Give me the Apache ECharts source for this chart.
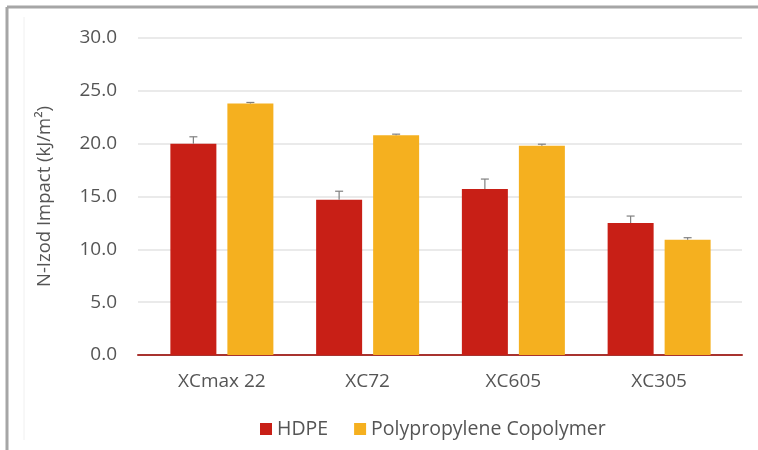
<!DOCTYPE html>
<html><head><meta charset="utf-8">
<script src="https://cdn.jsdelivr.net/npm/echarts@6/dist/echarts.min.js"></script>
<style>html,body{margin:0;padding:0;background:#fff}#c{width:758px;height:450px}</style>
</head><body><div id="c"></div>
<script>
var categories = ['XCmax 22', 'XC72', 'XC605', 'XC305'];
var hdpe = [20.0, 14.7, 15.7, 12.5];
var hdpeErr = [0.65, 0.8, 0.95, 0.65];
var pp = [23.8, 20.8, 19.8, 10.9];
var ppErr = [0.1, 0.1, 0.15, 0.2];
var yTicks = [0, 5, 10, 15, 20, 25, 30];

var BAR_W = 46, GAP = 11;
function errSeries(vals, errs, sign) {
  return {
    type: 'custom',
    xAxisIndex: 1, yAxisIndex: 1,
    data: vals.map(function (v, i) { return [i, v, v + errs[i]]; }),
    z: 5,
    silent: true,
    renderItem: function (params, api) {
      var off = sign * (BAR_W + GAP) / 2;
      var p0 = api.coord([api.value(0), api.value(1)]);
      var p1 = api.coord([api.value(0), api.value(2)]);
      var x = p0[0] + off;
      var style = {stroke: '#808080', lineWidth: 1.2};
      return {type: 'group', children: [
        {type: 'line', shape: {x1: x, y1: p0[1], x2: x, y2: p1[1]}, style: style},
        {type: 'line', shape: {x1: x - 4, y1: p1[1], x2: x + 4, y2: p1[1]}, style: style}
      ]};
    }
  };
}

var chart = echarts.init(document.getElementById('c'));
chart.setOption({
  animation: false,
  textStyle: {fontFamily: 'Open Sans'},
  graphic: [
    {type: 'line', shape: {x1: 7, y1: 7, x2: 758, y2: 7}, style: {stroke: '#a6a6a6', lineWidth: 3}},
    {type: 'line', shape: {x1: 7, y1: 7, x2: 7, y2: 450}, style: {stroke: '#a6a6a6', lineWidth: 3}},
    {type: 'line', shape: {x1: 24, y1: 17, x2: 24, y2: 440}, style: {stroke: '#f0f0f0', lineWidth: 1}}
  ],
  grid: [
    {left: 138, right: 16, top: 38, bottom: 95},
    {left: 149, right: 26, top: 38, bottom: 95}
  ],
  legend: {
    left: 255, top: 414, itemWidth: 12, itemHeight: 12, itemGap: 26,
    icon: 'rect',
    textStyle: {fontSize: 19.5, color: '#555', fontFamily: 'Open Sans'},
    data: ['HDPE', 'Polypropylene Copolymer']
  },
  xAxis: [
    {type: 'category', gridIndex: 0, data: categories,
     axisLine: {lineStyle: {color: '#a8332f', width: 2}},
     axisTick: {show: false}, axisLabel: {show: false}},
    {type: 'category', gridIndex: 1, data: categories,
     axisLine: {show: false}, axisTick: {show: false},
     axisLabel: {fontSize: 19, color: '#555', margin: 17}}
  ],
  yAxis: [
    {type: 'value', gridIndex: 0, min: 0, max: 30, interval: 5,
     name: 'N-Izod Impact (kJ/m²)', nameLocation: 'middle', nameGap: 84,
     nameTextStyle: {fontSize: 18.5, color: '#555'},
     axisLine: {show: false}, axisTick: {show: false},
     axisLabel: {fontSize: 19, color: '#555', margin: 21, formatter: function (v) { return v.toFixed(1); }},
     splitLine: {lineStyle: {color: '#e3e3e3', width: 1.5}}},
    {type: 'value', gridIndex: 1, min: 0, max: 30, interval: 5,
     axisLine: {show: false}, axisTick: {show: false}, axisLabel: {show: false}, splitLine: {show: false}}
  ],
  series: [
    {name: 'HDPE', type: 'bar', xAxisIndex: 1, yAxisIndex: 1, data: hdpe, barWidth: BAR_W,
     barGap: (GAP / BAR_W * 100) + '%', itemStyle: {color: '#c81f16'}},
    {name: 'Polypropylene Copolymer', type: 'bar', xAxisIndex: 1, yAxisIndex: 1, data: pp, barWidth: BAR_W,
     itemStyle: {color: '#f5b01f'}},
    errSeries(hdpe, hdpeErr, -1),
    errSeries(pp, ppErr, 1)
  ]
});
</script></body></html>
